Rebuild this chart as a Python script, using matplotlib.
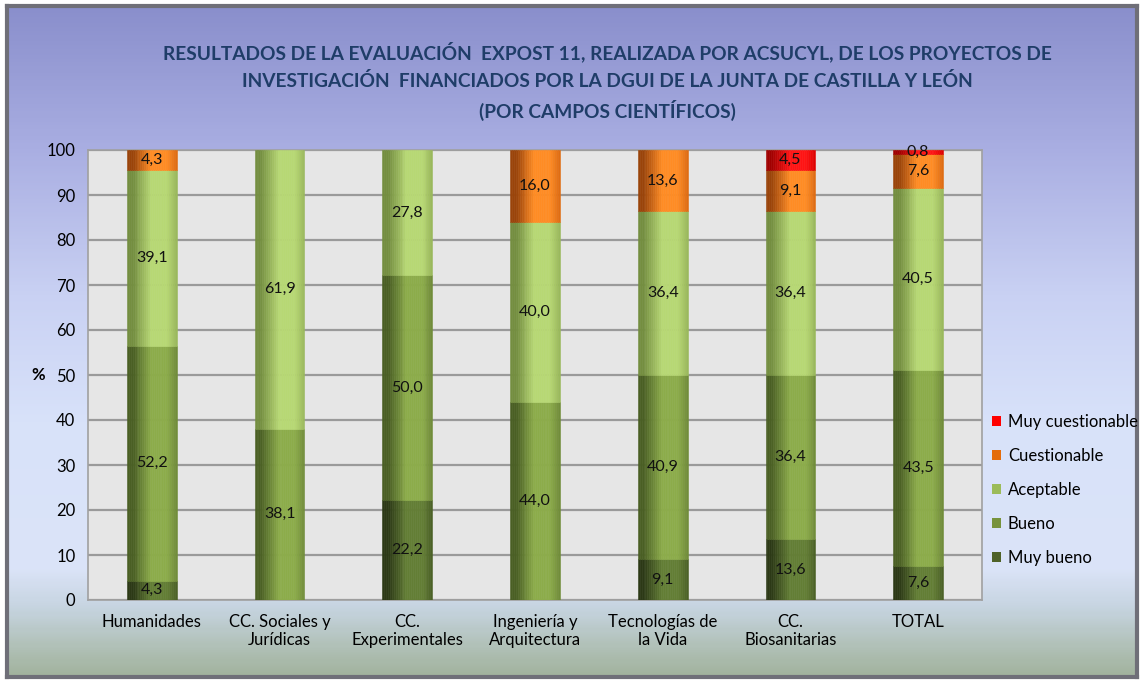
import numpy as np
import matplotlib.pyplot as plt
from matplotlib.colors import LinearSegmentedColormap
from matplotlib.patches import Patch

plt.rcParams['font.family'] = ['Lato', 'DejaVu Sans']

categories = ['Humanidades', 'CC. Sociales y\nJurídicas', 'CC.\nExperimentales',
              'Ingeniería y\nArquitectura', 'Tecnologías de\nla Vida',
              'CC.\nBiosanitarias', 'TOTAL']
series_names = ['Muy bueno', 'Bueno', 'Aceptable', 'Cuestionable', 'Muy cuestionable']
muy_bueno = [4.3, 0, 22.2, 0, 9.1, 13.6, 7.6]
bueno = [52.2, 38.1, 50.0, 44.0, 40.9, 36.4, 43.5]
aceptable = [39.1, 61.9, 27.8, 40.0, 36.4, 36.4, 40.5]
cuestionable = [4.3, 0, 0, 16.0, 13.6, 9.1, 7.6]
muy_cuestionable = [0, 0, 0, 0, 0, 4.5, 0.8]
series = [muy_bueno, bueno, aceptable, cuestionable, muy_cuestionable]
title_lines = ['RESULTADOS DE LA EVALUACIÓN  EXPOST 11, REALIZADA POR ACSUCYL, DE LOS PROYECTOS DE',
               'INVESTIGACIÓN  FINANCIADOS POR LA DGUI DE LA JUNTA DE CASTILLA Y LEÓN',
               '(POR CAMPOS CIENTÍFICOS)']

# (left edge, centre, right edge) shades for the cylinder look
shades = [
    ('#2c3916', '#637e35', '#4a6026'),
    ('#4a5f24', '#8cac4a', '#6f8a39'),
    ('#748e40', '#b7d874', '#98b65a'),
    ('#9a440a', '#ff8c24', '#dc6a12'),
    ('#a00000', '#ff1414', '#dc0000'),
]
legend_colors = ['#4f6228', '#77933c', '#9bbb59', '#e46c0a', '#ff0000']

fig = plt.figure(figsize=(11.42, 6.83), dpi=100)
fig.patch.set_facecolor('white')

# background panel with vertical gradient
bg = fig.add_axes([7 / 1142, 6 / 683, 1130 / 1142, 671 / 683], zorder=-5)
stops = [(0.0, '#8a8fcc'), (0.21, '#a9aee2'), (0.43, '#c9d1f3'), (0.62, '#d8e2fa'),
         (0.84, '#dbe4f8'), (0.90, '#c6d4e0'), (0.96, '#b0c0b6'), (1.0, '#a2b39e')]
bg_cmap = LinearSegmentedColormap.from_list('bg', stops)
bg.imshow(np.linspace(0, 1, 300).reshape(-1, 1), aspect='auto', cmap=bg_cmap,
          extent=[0, 1, 0, 1], origin='upper')
bg.set_xticks([])
bg.set_yticks([])
for s in bg.spines.values():
    s.set_color('#6f6f78')
    s.set_linewidth(3)

ax = fig.add_axes([88 / 1142, 1 - 600 / 683, 894 / 1142, 450 / 683])
ax.set_facecolor('#e6e6e6')
x = np.arange(len(categories))
width = 0.39
n_slices = 26
bottom = np.zeros(len(categories))

for vals, name, sh in zip(series, series_names, shades):
    vals = np.array(vals, dtype=float)
    keep = vals > 0
    cmap = LinearSegmentedColormap.from_list(
        name, [(0, sh[0]), (0.12, sh[0]), (0.48, sh[1]), (0.8, sh[1]), (1, sh[2])])
    # cylinder shading: each segment is drawn as thin vertical strips
    for k in range(n_slices):
        c = cmap((k + 0.5) / n_slices)
        ax.bar(x[keep] - width / 2 + k * width / n_slices, vals[keep], width / n_slices,
               bottom=bottom[keep], align='edge', color=c, edgecolor=c,
               linewidth=0.4, zorder=3)
    for xi, v, b0 in zip(x, vals, bottom):
        if v > 0:
            ax.text(xi, b0 + v / 2, f'{v:.1f}'.replace('.', ','), ha='center',
                    va='center', fontsize=11.5, color='#111111', zorder=6)
    bottom += vals

ax.set_xlim(-0.5, len(categories) - 0.5)
ax.set_ylim(0, 100)
ax.set_yticks(range(0, 101, 10))
ax.set_xticks(x)
ax.set_xticklabels(categories, fontsize=12)
ax.tick_params(axis='y', labelsize=12, length=0, pad=9)
ax.tick_params(axis='x', length=0, pad=10)
ax.yaxis.grid(True, color='#9a9a9a', linewidth=1.6, zorder=1)
ax.set_axisbelow(True)
for s in ax.spines.values():
    s.set_color('#a0a0a0')
    s.set_linewidth(1.2)
ax.set_ylabel('%', rotation=0, fontsize=12, fontweight='bold', labelpad=6, va='center')

for ty, line in zip([52, 81, 110], title_lines):
    fig.text(0.532, 1 - ty / 683, line, ha='center', va='center', fontsize=13.8,
             fontweight='bold', color='#1f3d68')

handles = [Patch(facecolor=c, edgecolor='none', label=n)
           for c, n in zip(legend_colors[::-1], series_names[::-1])]
fig.legend(handles=handles, loc='center left', bbox_to_anchor=(977 / 1142, 1 - 490 / 683),
           frameon=False, fontsize=12, handlelength=0.55, handleheight=0.55,
           handletextpad=0.4, labelspacing=1.08)

fig.savefig('out.png', dpi=100)
